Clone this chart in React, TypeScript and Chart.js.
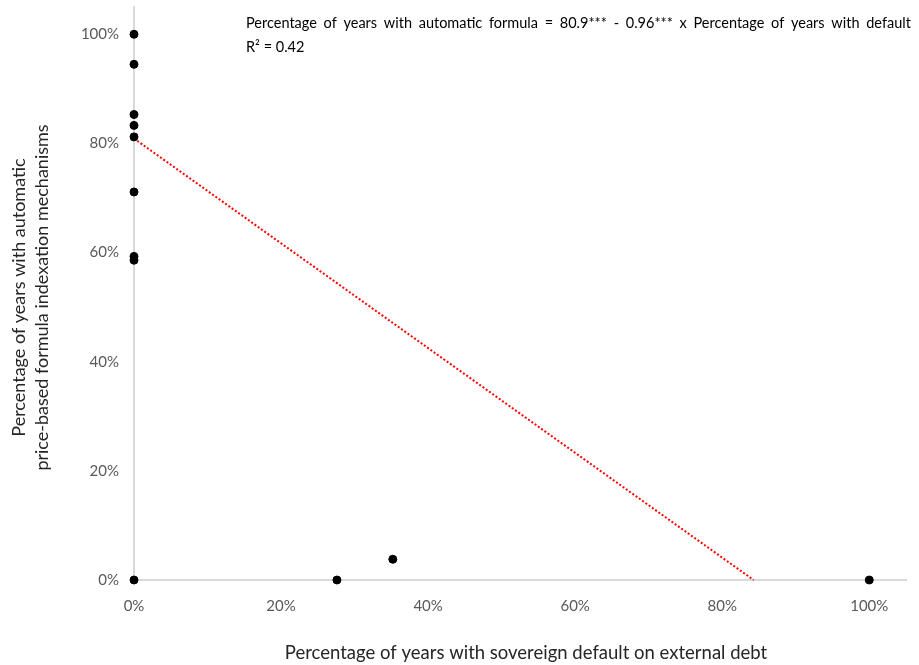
import React, { useEffect, useRef } from "react";
import { Chart, registerables } from "chart.js";

Chart.register(...registerables);

// Share of years with sovereign default (x, %) vs share of years with
// automatic price-based formula indexation (y, %)
const defaultShare = [0, 0, 0, 0, 0, 0, 0, 0, 0, 27.6, 35.2, 100];
const indexationShare = [100, 94.5, 85.3, 83.3, 81.2, 71.1, 59.3, 58.6, 0, 0, 3.8, 0];

// Fitted regression: y = intercept + slope * x
const intercept = 80.9;
const slope = -0.96;
const rSquared = 0.42;

const tickValues = [0, 20, 40, 60, 80, 100];

const xTitle = "Percentage of years with sovereign default on external debt";
const yTitle = ["Percentage of years with automatic", "price-based formula indexation mechanisms"];
const equationText = `Percentage of years with automatic formula = ${intercept}*** - ${Math.abs(slope)}*** x Percentage of years with default`;
const rSquaredLabel = "R² = " + rSquared.toFixed(2);

const FONT = "Lato, 'Open Sans', 'Liberation Sans', sans-serif";

const textPlugin = {
  id: "chartTexts",
  afterDraw(chart: any) {
    const { ctx, chartArea } = chart;
    ctx.save();
    ctx.fillStyle = "#262626";
    ctx.textAlign = "center";
    ctx.textBaseline = "middle";
    // x axis title
    ctx.font = `18.5px ${FONT}`;
    ctx.fillText(xTitle, (chartArea.left + chartArea.right) / 2 + 6, 653);
    // y axis title, two rotated lines
    ctx.save();
    ctx.font = `18px ${FONT}`;
    ctx.translate(19, (chartArea.top + chartArea.bottom) / 2 + 4);
    ctx.rotate(-Math.PI / 2);
    ctx.fillText(yTitle[0], 0, 0);
    ctx.fillText(yTitle[1], 0, 23);
    ctx.restore();
    // regression equation
    ctx.fillStyle = "#000000";
    ctx.font = `14.5px ${FONT}`;
    (ctx as any).wordSpacing = "3px";
    ctx.textAlign = "left";
    ctx.fillText(equationText, 246, 23);
    (ctx as any).wordSpacing = "0px";
    ctx.fillText(rSquaredLabel, 246, 47);
    ctx.restore();
  },
};

export default function App() {
  const ref = useRef<HTMLCanvasElement | null>(null);

  useEffect(() => {
    document.body.style.margin = "0";
    const points = defaultShare.map((x, i) => ({ x, y: indexationShare[i] }));
    const trend = [
      { x: 0, y: intercept },
      { x: -intercept / slope, y: 0 },
    ];
    const chart = new Chart(ref.current as HTMLCanvasElement, {
      type: "scatter",
      data: {
        datasets: [
          {
            label: "Trend",
            data: trend,
            showLine: true,
            borderColor: "#ff0000",
            borderWidth: 2,
            borderDash: [2, 2],
            pointRadius: 0,
            clip: false,
            order: 2,
          },
          {
            label: "Countries",
            data: points,
            backgroundColor: "#000000",
            borderColor: "#000000",
            pointRadius: 4,
            pointHoverRadius: 4,
            clip: false,
            order: 1,
          },
        ],
      },
      options: {
        animation: false,
        responsive: false,
        layout: { padding: { top: 7, right: 13, left: 0, bottom: 0 } },
        plugins: { legend: { display: false }, tooltip: { enabled: false } },
        scales: {
          x: {
            type: "linear",
            min: 0,
            max: 105,
            afterBuildTicks: (scale: any) => {
              scale.ticks = tickValues.map((v) => ({ value: v }));
            },
            afterFit: (scale: any) => {
              scale.height = 85;
              scale.paddingLeft = 0;
              scale.paddingRight = 0;
            },
            grid: { display: false, drawTicks: false },
            border: { color: "#d9d9d9", width: 2 },
            ticks: {
              padding: 17,
              color: "#595959",
              font: { family: FONT, size: 15 },
              callback: (v: any) => `${v}%`,
            },
          },
          y: {
            type: "linear",
            min: 0,
            max: 105,
            afterBuildTicks: (scale: any) => {
              scale.ticks = tickValues.map((v) => ({ value: v }));
            },
            afterFit: (scale: any) => {
              scale.width = 134;
              scale.paddingTop = 0;
              scale.paddingBottom = 0;
            },
            grid: { display: false, drawTicks: false },
            border: { color: "#d9d9d9", width: 2 },
            ticks: {
              padding: 15,
              color: "#595959",
              font: { family: FONT, size: 15 },
              callback: (v: any) => `${v}%`,
            },
          },
        },
      },
      plugins: [textPlugin],
    });
    return () => chart.destroy();
  }, []);

  return (
    <div style={{ width: 919, height: 665, background: "#ffffff" }}>
      <canvas ref={ref} width={919} height={665} style={{ display: "block" }} />
    </div>
  );
}
